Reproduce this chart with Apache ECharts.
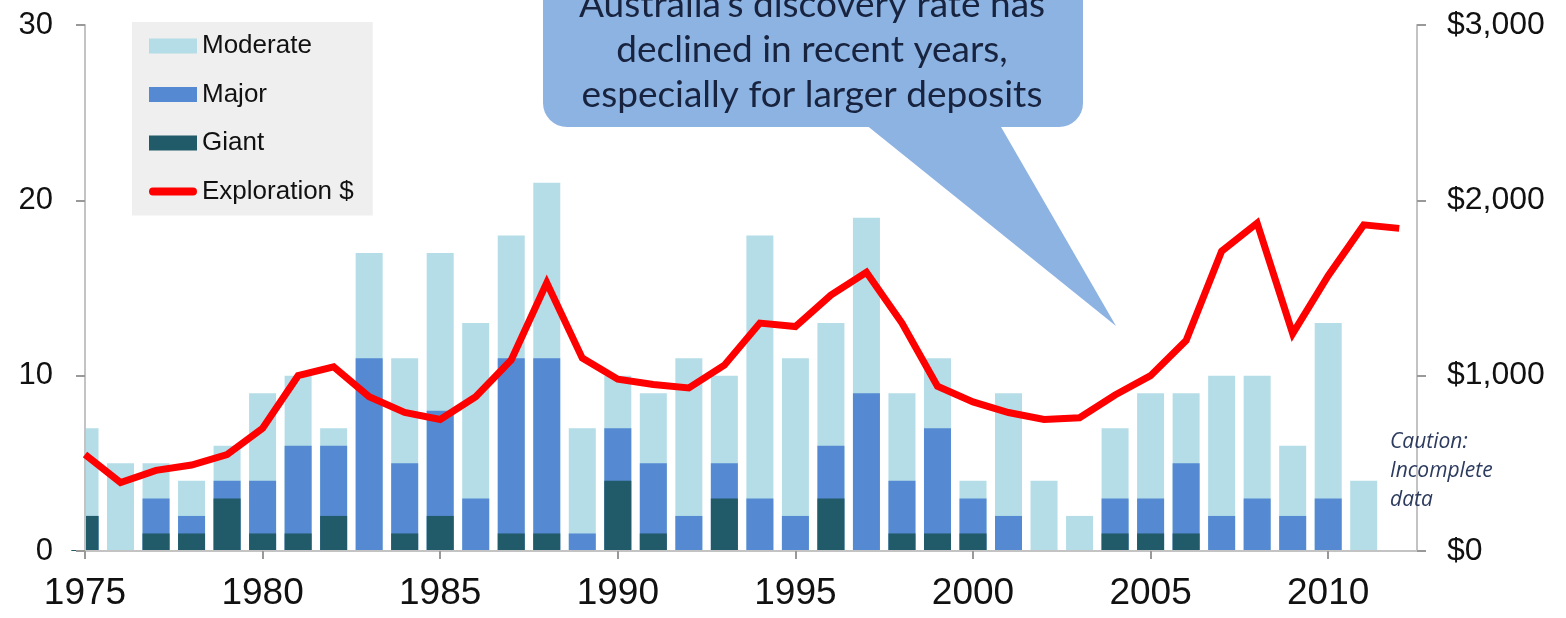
<!DOCTYPE html>
<html>
<head>
<meta charset="utf-8">
<script src="https://cdn.jsdelivr.net/npm/echarts@6/dist/echarts.min.js"></script>
<style>
  html, body { margin: 0; padding: 0; background: #fff; }
  #chart-container { width: 1566px; height: 618px; }
</style>
</head>
<body>
<div id="chart-container"></div>
<script>
var years = [1975, 1976, 1977, 1978, 1979, 1980, 1981, 1982, 1983, 1984, 1985, 1986, 1987, 1988, 1989,
  1990, 1991, 1992, 1993, 1994, 1995, 1996, 1997, 1998, 1999, 2000, 2001, 2002, 2003, 2004, 2005,
  2006, 2007, 2008, 2009, 2010, 2011];
var giant    = [2, 0, 1, 1, 3, 1, 1, 2, 0, 1, 2, 0, 1, 1, 0, 4, 1, 0, 3, 0, 0, 3, 0, 1, 1, 1, 0, 0, 0, 1, 1, 1, 0, 0, 0, 0, 0];
var major    = [0, 0, 2, 1, 1, 3, 5, 4, 11, 4, 6, 3, 10, 10, 1, 3, 4, 2, 2, 3, 2, 3, 9, 3, 6, 2, 2, 0, 0, 2, 2, 4, 2, 3, 2, 3, 0];
var moderate = [5, 5, 2, 2, 2, 5, 4, 1, 6, 6, 9, 10, 7, 10, 6, 3, 4, 9, 5, 15, 9, 7, 10, 5, 4, 1, 7, 4, 2, 4, 6, 4, 8, 7, 4, 10, 4];

// exploration spend, $m, 1975-2012
var spendYears = years.concat([2012]);
var spend = [550, 390, 460, 490, 550, 700, 1000, 1050, 880, 790, 750, 880, 1090, 1530, 1100, 980,
  950, 930, 1060, 1300, 1280, 1460, 1590, 1300, 940, 850, 790, 750, 760, 890, 1000, 1200, 1710,
  1870, 1240, 1570, 1860, 1840];

var leftTicks = [0, 10, 20, 30];
var rightTicks = [0, 1000, 2000, 3000];

var dom = document.getElementById('chart-container');
var myChart = echarts.init(dom, null, { renderer: 'canvas' });

function pairs(xs, ys) {
  return xs.map(function(x, i) { return [x, ys[i]]; });
}

// stack on a value x axis does not work, so draw running totals over each other
function runningTotal() {
  var lists = Array.prototype.slice.call(arguments);
  return years.map(function(y, i) {
    return lists.reduce(function(sum, list) { return sum + list[i]; }, 0);
  });
}

function barSeries(name, values, color) {
  return {
    name: name,
    type: 'bar',
    barWidth: 27,
    barGap: '-100%',
    itemStyle: { color: color },
    data: pairs(years, values)
  };
}

var axisGray = '#c3c3c3';

// thick round-capped line, the two dots at the corners only keep the icon box 48x15
var lineIcon = 'path://M0,0L0.01,0M48,15L47.99,15M4,3.5L44,3.5A4,4,0,0,1,44,11.5L4,11.5A4,4,0,0,1,4,3.5Z';

var option = {
  animation: false,
  grid: { left: 85, right: 149, top: 25, bottom: 67 },
  legend: {
    orient: 'vertical',
    left: 132,
    top: 22,
    backgroundColor: '#efefef',
    padding: [11, 19, 11, 17],
    itemGap: 22.5,
    itemWidth: 48,
    itemHeight: 15,
    textStyle: { fontFamily: 'Liberation Sans', fontSize: 26, lineHeight: 26, color: '#111' },
    data: [
      { name: 'Moderate', icon: 'rect' },
      { name: 'Major', icon: 'rect' },
      { name: 'Giant', icon: 'rect' },
      { name: 'Exploration $', icon: lineIcon }
    ]
  },
  xAxis: {
    type: 'value',
    z: 4,
    min: 1975,
    max: 2012.5,
    interval: 5,
    splitLine: { show: false },
    axisLine: { show: true, lineStyle: { color: axisGray, width: 2 } },
    axisTick: { show: true, length: 8, lineStyle: { color: '#999', width: 2 } },
    axisLabel: {
      showMaxLabel: false,
      margin: 24,
      fontFamily: 'Liberation Sans',
      fontSize: 37,
      color: '#111',
      formatter: function(v) { return v % 5 === 0 ? String(v) : ''; }
    }
  },
  yAxis: [
    {
      type: 'value',
      z: 4,
      min: leftTicks[0],
      max: leftTicks[leftTicks.length - 1],
      interval: 10,
      splitLine: { show: false },
      axisLine: { show: true, lineStyle: { color: axisGray, width: 2 } },
      axisTick: { show: true, length: 9, lineStyle: { color: '#999', width: 2 } },
      axisLabel: { margin: 32, fontFamily: 'Liberation Sans', fontSize: 31, color: '#111' }
    },
    {
      type: 'value',
      z: 4,
      position: 'right',
      min: rightTicks[0],
      max: rightTicks[rightTicks.length - 1],
      interval: 1000,
      splitLine: { show: false },
      axisLine: { show: true, lineStyle: { color: axisGray, width: 2 } },
      axisTick: { show: true, length: 9, lineStyle: { color: '#999', width: 2 } },
      axisLabel: {
        margin: 30,
        fontFamily: 'Liberation Sans',
        fontSize: 32,
        color: '#111',
        formatter: function(v) { return '$' + v.toLocaleString('en-US'); }
      }
    }
  ],
  series: [
    barSeries('Moderate', runningTotal(giant, major, moderate), '#b4dde7'),
    barSeries('Major', runningTotal(giant, major), '#558ad2'),
    barSeries('Giant', giant, '#215a68'),
    {
      name: 'Exploration $',
      type: 'line',
      yAxisIndex: 1,
      symbol: 'none',
      z: 5,
      lineStyle: { color: '#ff0000', width: 7, join: 'miter' },
      itemStyle: { color: '#ff0000' },
      data: pairs(spendYears, spend)
    }
  ],
  graphic: [
    {
      // hides the left half of the 1975 bar, outside the plot
      type: 'rect',
      z: 3,
      shape: { x: 56, y: 20, width: 28.5, height: 530 },
      style: { fill: '#fff' }
    },
    {
      type: 'group',
      z: 10,
      children: [
        {
          type: 'polygon',
          z: 10,
          shape: { points: [[860, 120], [997, 120], [1116, 326]] },
          style: { fill: '#8db3e2' }
        },
        {
          type: 'rect',
          z: 10,
          shape: { x: 543, y: -40, width: 540, height: 167, r: 24 },
          style: { fill: '#8db3e2' }
        },
        {
          type: 'text',
          z: 11,
          x: 812,
          y: 50,
          style: {
            text: 'Australia\u2019s discovery rate has\ndeclined in recent years,\nespecially for larger deposits',
            fontFamily: 'Lato',
            fontSize: 37,
            lineHeight: 45,
            fill: '#17233f',
            align: 'center',
            verticalAlign: 'middle'
          }
        }
      ]
    },
    {
      type: 'text',
      left: 1390,
      top: 428,
      z: 10,
      style: {
        text: 'Caution:\nIncomplete\ndata',
        fontFamily: 'Open Sans',
        fontStyle: 'italic',
        fontSize: 21,
        lineHeight: 29,
        fill: '#2c3b5e'
      }
    }
  ]
};

myChart.setOption(option);
</script>
</body>
</html>
